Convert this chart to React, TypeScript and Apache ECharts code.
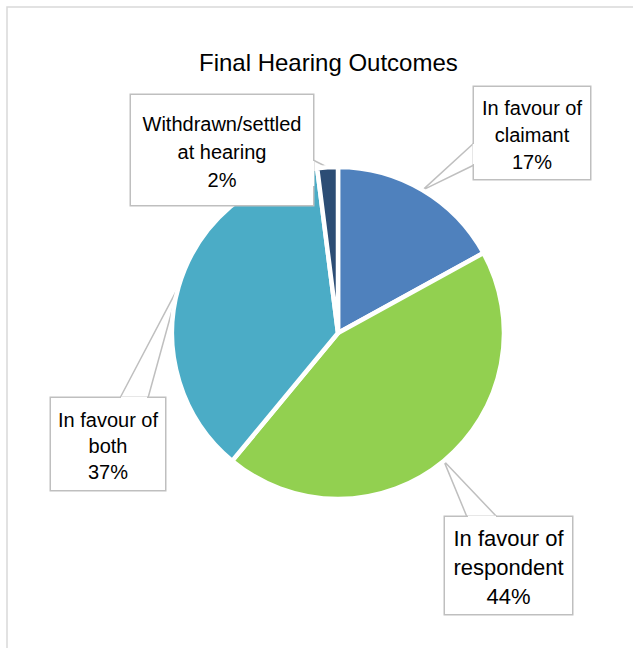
import React, { useEffect, useRef } from "react";
import * as echarts from "echarts";

const titleText = "Final Hearing Outcomes";
const categories = [
  "In favour of claimant",
  "In favour of respondent",
  "In favour of both",
  "Withdrawn/settled at hearing",
];
const labelTexts = [
  "In favour of\nclaimant",
  "In favour of\nrespondent",
  "In favour of\nboth",
  "Withdrawn/settled\nat hearing",
];
const values = [17, 44, 37, 2];
const colors = ["#4F81BD", "#92D050", "#4BACC6", "#2C4D75"];

// callout boxes: left, top, width, height, font size, line height, and the two points where the wedge meets the box
const boxes = [
  { x: 474, y: 87, w: 116, h: 92, fs: 20, lh: 27, a: [474, 143], b: [474, 165] },
  { x: 445, y: 517, w: 127, h: 97, fs: 22, lh: 29, a: [467, 517], b: [497, 517] },
  { x: 51, y: 398, w: 114, h: 92, fs: 20, lh: 26, a: [120, 398], b: [148, 398] },
  { x: 131, y: 95, w: 182, h: 110, fs: 20, lh: 28, a: [313, 160], b: [313, 187] },
];

const LABEL_FONT = "'Liberation Sans', Arial, sans-serif";

export default function App() {
  const ref = useRef<HTMLDivElement>(null);
  useEffect(() => {
    if (!ref.current) return;
    const chart = echarts.init(ref.current, null, { renderer: "svg" });
    const data = values.map((v, i) => {
      const bx = boxes[i];
      const pv = (bx.h - bx.lh * 3) / 2;
      return {
        name: categories[i],
        value: v,
        itemStyle: { color: colors[i] },
        label: {
          width: bx.w,
          fontSize: bx.fs,
          lineHeight: bx.lh,
          padding: [pv + 1.5, 0, pv - 1.5, 0],
        },
      };
    });
    // white gaps in the box outline where each callout wedge joins its box
    const joins = boxes.map((bx) => {
      const vertical = bx.a[0] === bx.b[0];
      return {
        type: "line",
        silent: true,
        z: 100,
        shape: vertical
          ? { x1: bx.a[0], y1: bx.a[1] + 1, x2: bx.b[0], y2: bx.b[1] - 1 }
          : { x1: bx.a[0] + 1, y1: bx.a[1], x2: bx.b[0] - 1, y2: bx.b[1] },
        style: { stroke: "#ffffff", lineWidth: 2.5 },
      };
    });
    chart.setOption({
      animation: false,
      backgroundColor: "#ffffff",
      title: {
        text: titleText,
        left: 199,
        top: 50,
        padding: 0,
        textStyle: {
          fontFamily: "'Liberation Sans', Arial, sans-serif",
          fontSize: 24,
          fontWeight: "normal",
          color: "#000000",
        },
      },
      graphic: [
        {
          type: "rect",
          silent: true,
          shape: { x: 7, y: 7, width: 700, height: 700 },
          style: { fill: "none", stroke: "#D9D9D9", lineWidth: 1.5 },
        },
        ...joins,
      ],
      series: [
        {
          type: "pie",
          center: [338, 333],
          radius: 166,
          startAngle: 90,
          clockwise: true,
          avoidLabelOverlap: false,
          itemStyle: { borderColor: "#ffffff", borderWidth: 4.5 },
          label: {
            show: true,
            position: "outside",
            formatter: (p: any) => `${labelTexts[p.dataIndex]}\n${Math.round(p.percent)}%`,
            fontFamily: LABEL_FONT,
            overflow: "none",
            color: "#000000",
            align: "center",
            backgroundColor: "#ffffff",
            borderColor: "#BFBFBF",
            borderWidth: 1.5,
          },
          labelLine: {
            show: true,
            length: 10,
            length2: 10,
            lineStyle: { color: "#BFBFBF", width: 1.5 },
          },
          labelLayout: (p: any) => {
            const bx = boxes[p.dataIndex];
            const anchor = p.labelLinePoints ? p.labelLinePoints[0] : [0, 0];
            return {
              x: bx.x + bx.w / 2,
              y: bx.y,
              align: "center",
              verticalAlign: "top",
              labelLinePoints: [bx.a, anchor, bx.b],
            };
          },
          emphasis: { disabled: true },
          data,
        },
      ],
    });
    return () => chart.dispose();
  }, []);
  return (
    <div
      ref={ref}
      style={{ position: "absolute", left: 0, top: 0, width: 633, height: 648 }}
    />
  );
}
